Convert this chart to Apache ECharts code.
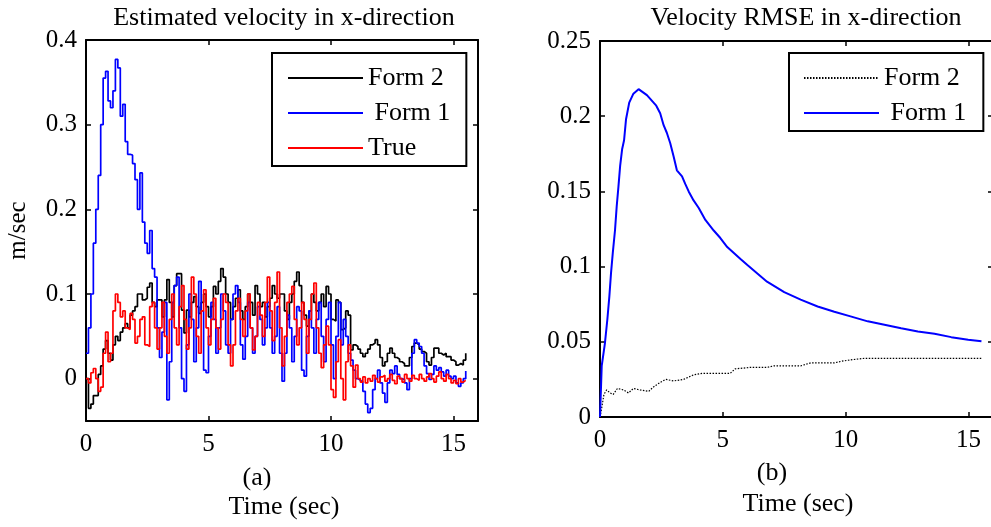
<!DOCTYPE html>
<html>
<head>
<meta charset="utf-8">
<script src="https://cdn.jsdelivr.net/npm/echarts@6/dist/echarts.min.js"></script>
<style>
  html, body { margin: 0; padding: 0; background: #fff; }
  #chart { width: 991px; height: 527px; }
</style>
</head>
<body>
<div id="chart"></div>
<script>
// (a) estimated velocity, sampled every 0.1 s
const velTime = [0, 0.1, 0.2, 0.3, 0.4, 0.5, 0.6, 0.7, 0.8, 0.9,
  1.0, 1.1, 1.2, 1.3, 1.4, 1.5, 1.6, 1.7, 1.8, 1.9,
  2.0, 2.1, 2.2, 2.3, 2.4, 2.5, 2.6, 2.7, 2.8, 2.9,
  3.0, 3.1, 3.2, 3.3, 3.4, 3.5, 3.6, 3.7, 3.8, 3.9,
  4.0, 4.1, 4.2, 4.3, 4.4, 4.5, 4.6, 4.7, 4.8, 4.9,
  5.0, 5.1, 5.2, 5.3, 5.4, 5.5, 5.6, 5.7, 5.8, 5.9,
  6.0, 6.1, 6.2, 6.3, 6.4, 6.5, 6.6, 6.7, 6.8, 6.9,
  7.0, 7.1, 7.2, 7.3, 7.4, 7.5, 7.6, 7.7, 7.8, 7.9,
  8.0, 8.1, 8.2, 8.3, 8.4, 8.5, 8.6, 8.7, 8.8, 8.9,
  9.0, 9.1, 9.2, 9.3, 9.4, 9.5, 9.6, 9.7, 9.8, 9.9,
  10.0, 10.1, 10.2, 10.3, 10.4, 10.5, 10.6, 10.7, 10.8, 10.9,
  11.0, 11.1, 11.2, 11.3, 11.4, 11.5, 11.6, 11.7, 11.8, 11.9,
  12.0, 12.1, 12.2, 12.3, 12.4, 12.5, 12.6, 12.7, 12.8, 12.9,
  13.0, 13.1, 13.2, 13.3, 13.4, 13.5, 13.6, 13.7, 13.8, 13.9,
  14.0, 14.1, 14.2, 14.3, 14.4, 14.5, 14.6, 14.7, 14.8, 14.9,
  15.0, 15.1, 15.2, 15.3, 15.4, 15.5]
const velForm2 = [0.0, -0.035, -0.03, -0.02, -0.02, 0.005, 0.015, 0.035, 0.045, 0.03,
  0.022, 0.04, 0.05, 0.045, 0.055, 0.06, 0.065, 0.06, 0.075, 0.08,
  0.085, 0.1, 0.1, 0.093, 0.095, 0.108, 0.113, 0.09, 0.085, 0.093,
  0.093, 0.073, 0.093, 0.117, 0.09, 0.073, 0.11, 0.124, 0.124, 0.081,
  0.054, 0.081, 0.073, 0.09, 0.097, 0.085, 0.077, 0.09, 0.1, 0.085,
  0.073, 0.085, 0.109, 0.1, 0.115, 0.13, 0.12, 0.1, 0.09, 0.07,
  0.085, 0.095, 0.105, 0.08, 0.07, 0.085, 0.1, 0.09, 0.075, 0.11,
  0.1, 0.085, 0.09, 0.073, 0.085, 0.095, 0.11, 0.1, 0.095, 0.1,
  0.1, 0.08, 0.07, 0.09, 0.1, 0.115, 0.126, 0.11, 0.09, 0.075,
  0.062, 0.08, 0.1, 0.09, 0.08, 0.09, 0.1, 0.085, 0.109, 0.1,
  0.07, 0.068, 0.093, 0.09, 0.058, 0.06, 0.08, 0.075, 0.034, 0.04,
  0.038, 0.035, 0.03, 0.026, 0.03, 0.035, 0.04, 0.042, 0.046, 0.04,
  0.025, 0.015, 0.02, 0.03, 0.036, 0.03, 0.025, 0.023, 0.02, 0.018,
  0.015, 0.015, 0.025, 0.038, 0.042, 0.04, 0.035, 0.032, 0.03, 0.02,
  0.016, 0.025, 0.036, 0.036, 0.03, 0.028, 0.03, 0.026, 0.026, 0.022,
  0.02, 0.016, 0.018, 0.016, 0.022, 0.03]
const velForm1 = [0.03, 0.06, 0.1, 0.16, 0.2, 0.24, 0.3, 0.355, 0.363, 0.328,
  0.32, 0.34, 0.377, 0.367, 0.31, 0.324, 0.28, 0.265, 0.264, 0.254,
  0.235, 0.2, 0.243, 0.185, 0.16, 0.148, 0.175, 0.13, 0.12, 0.06,
  0.025, 0.055, 0.09, -0.025, 0.02, 0.09, 0.11, 0.12, 0.06, 0.0,
  -0.015, 0.04, 0.1, 0.07, 0.02, 0.06, 0.115, 0.08, 0.01, 0.007,
  0.05, 0.09, 0.07, 0.03, 0.06, 0.1, 0.08, 0.04, 0.03, 0.07,
  0.1, 0.11, 0.09, 0.04, 0.023, 0.05, 0.09, 0.06, 0.03, 0.05,
  0.085, 0.07, 0.04, 0.06, 0.09, 0.06, 0.03, 0.05, 0.085, 0.03,
  -0.003, 0.03, 0.075, 0.06, 0.02, 0.05, 0.085, 0.08, 0.01, 0.003,
  0.05, 0.08, 0.06, 0.03, 0.07, 0.09, 0.05, 0.02, 0.07, 0.09,
  0.04, 0.0, 0.05, 0.09, 0.04, 0.07, 0.05, 0.03, 0.022, 0.01,
  0.0, -0.002, -0.004, -0.015, -0.03, -0.04, -0.035, -0.013, 0.0, 0.01,
  -0.005, -0.017, -0.028, -0.005, 0.01, 0.006, 0.015, 0.005, 0.0, -0.001,
  -0.005, -0.013, 0.0, 0.03, 0.046, 0.042, 0.038, 0.03, 0.015, 0.006,
  -0.001, 0.005, 0.015, 0.01, 0.013, 0.008, 0.003, 0.01, 0.003, 0.0,
  0.003, -0.005, -0.009, -0.005, 0.0, 0.009]
const velTrue = [0.0, -0.005, 0.007, 0.012, 0.0, -0.015, -0.01, 0.03, 0.055, 0.02,
  0.03, 0.08, 0.1, 0.09, 0.073, 0.08, 0.06, 0.058, 0.077, 0.07,
  0.042, 0.05, 0.07, 0.073, 0.04, 0.038, 0.085, 0.09, 0.06, 0.035,
  0.06, 0.09, 0.05, 0.03, 0.07, 0.1, 0.06, 0.04, 0.085, 0.11,
  0.07, 0.035, 0.06, 0.12, 0.1, 0.05, 0.03, 0.08, 0.105, 0.06,
  0.04, 0.07, 0.095, 0.06, 0.035, 0.07, 0.1, 0.09, 0.04, 0.015,
  0.04, 0.08, 0.095, 0.07, 0.05, 0.08, 0.1, 0.06, 0.034, 0.05,
  0.09, 0.075, 0.05, 0.09, 0.12, 0.08, 0.045, 0.09, 0.126, 0.06,
  0.015, 0.05, 0.09, 0.1, 0.109, 0.07, 0.04, 0.06, 0.09, 0.07,
  0.03, 0.07, 0.1, 0.113, 0.06, 0.03, 0.013, 0.04, 0.062, 0.04,
  -0.013, -0.022, 0.02, 0.046, 0.0, -0.025, 0.02, 0.04, 0.015, -0.01,
  0.016, 0.0, -0.004, 0.002, -0.005, 0.0, -0.003, 0.004, 0.0, -0.004,
  0.002, 0.004, -0.003, 0.0, 0.005, -0.002, -0.006, 0.003, 0.0, -0.004,
  0.005, 0.0, -0.003, 0.004, 0.0, -0.002, 0.005, 0.0, -0.003, 0.002,
  0.006, 0.0, -0.004, 0.003, 0.008, 0.0, -0.003, 0.005, 0.0, -0.005,
  -0.002, -0.006, 0.0, -0.004, -0.002, -0.002]

// (b) RMSE curves
const rmseTime1 = [0, 0.07, 0.2, 0.3, 0.38, 0.45, 0.52, 0.61, 0.68, 0.75, 0.82, 0.9, 0.98,
  1.06, 1.19, 1.36, 1.57, 1.91, 2.29, 2.45, 2.59, 2.72, 2.86, 3.0, 3.13, 3.34, 3.47, 3.61,
  3.81, 4.02, 4.29, 4.63, 4.9, 5.18, 5.45, 5.72, 6.0, 6.8, 7.5, 8.17, 8.86, 9.54, 10.2,
  10.9, 11.58, 12.26, 12.94, 13.62, 14.3, 14.99, 15.53]
const rmseForm1 = [0, 0.034, 0.049, 0.065, 0.08, 0.096, 0.109, 0.124, 0.14, 0.153, 0.167, 0.178, 0.184,
  0.198, 0.209, 0.215, 0.218, 0.214, 0.207, 0.202, 0.194, 0.189, 0.182, 0.173, 0.164, 0.16, 0.155, 0.15,
  0.144, 0.139, 0.131, 0.124, 0.119, 0.113, 0.109, 0.105, 0.101, 0.09, 0.083, 0.078, 0.0735, 0.07, 0.0669,
  0.0636, 0.0613, 0.059, 0.0569, 0.0554, 0.0531, 0.0514, 0.0503]
const rmseTime2 = [0, 0.07, 0.16, 0.27, 0.41, 0.54, 0.71, 0.95, 1.16, 1.36, 1.63, 1.98, 2.18, 2.45,
  2.68, 3.0, 3.4, 3.81, 4.16, 4.77, 5.3, 5.5, 6.13, 6.81, 7.08, 8.17, 8.58, 9.54, 9.81, 10.2, 10.76, 15.53]
const rmseForm2 = [0, 0.006, 0.015, 0.018, 0.016, 0.015, 0.019, 0.018, 0.016, 0.019, 0.018, 0.017, 0.02, 0.023,
  0.025, 0.024, 0.025, 0.028, 0.029, 0.029, 0.029, 0.032, 0.033, 0.033, 0.034, 0.034, 0.036, 0.036, 0.037, 0.038, 0.039, 0.039]

const xTicks = [0, 5, 10, 15]
const velTicks = [0, 0.1, 0.2, 0.3, 0.4]

const font = 'Liberation Serif'
const pair = (xs, ys) => xs.map((x, i) => [x, ys[i]])
const txt = size => ({ fontFamily: font, fontSize: size, fontWeight: 'normal', color: '#000' })

function frameX(gridIndex, pos, labels) {
  return {
    type: 'value', gridIndex: gridIndex, position: pos, min: 0, max: 16,
    axisLine: { show: true, onZero: false, lineStyle: { color: '#000', width: 2 } },
    axisTick: { show: true, inside: true, length: 5, customValues: xTicks, lineStyle: { color: '#000', width: 1.5 } },
    axisLabel: Object.assign({ show: labels, customValues: xTicks, margin: 11 }, txt(25)),
    splitLine: { show: false }
  }
}

function frameY(gridIndex, pos, labels, range) {
  const ax = {
    type: 'value', gridIndex: gridIndex, position: pos, min: range[0], max: range[1],
    axisLine: { show: true, onZero: false, lineStyle: { color: '#000', width: 2 } },
    axisTick: { show: true, inside: true, length: 5, lineStyle: { color: '#000', width: 1.5 } },
    axisLabel: Object.assign({ show: labels, margin: 9 }, txt(25)),
    splitLine: { show: false }
  }
  if (range[2]) {
    ax.interval = range[2]
  } else {
    ax.axisTick.customValues = velTicks
    ax.axisLabel.customValues = velTicks
  }
  return ax
}

function legendBox(names, left, pad) {
  return {
    data: names, orient: 'vertical', left: left, top: 53,
    padding: pad, itemGap: 9, itemWidth: 75, itemHeight: 22,
    borderColor: '#000', borderWidth: 2, backgroundColor: '#fff',
    selectedMode: false,
    itemStyle: { opacity: 0 },
    formatter: n => n.slice(2) === 'Form 1' ? ' Form 1' : n.slice(2),
    textStyle: txt(26)
  }
}

const chart = echarts.init(document.getElementById('chart'))
const velY = frameY(0, 'left', true, [-0.05, 0.4])
Object.assign(velY, {
  name: 'm/sec', nameLocation: 'middle', nameRotate: 90, nameGap: 55,
  nameTextStyle: txt(25)
})

chart.setOption({
  backgroundColor: '#fff',
  animation: false,
  textStyle: { fontFamily: font, color: '#000' },
  title: [
    { text: 'Estimated velocity in x-direction', left: 279, top: 0, textAlign: 'center', textStyle: txt(26) },
    { text: 'Velocity RMSE in x-direction', left: 801, top: 0, textAlign: 'center', textStyle: txt(26) },
    { text: '(a)', left: 252, top: 460, textAlign: 'center', textStyle: txt(26) },
    { text: 'Time (sec)', left: 279, top: 489, textAlign: 'center', textStyle: txt(26) },
    { text: '(b)', left: 767, top: 455, textAlign: 'center', textStyle: txt(26) },
    { text: 'Time (sec)', left: 793, top: 486, textAlign: 'center', textStyle: txt(26) }
  ],
  legend: [
    legendBox(['a:Form 2', 'a:Form 1', 'a:True'], 272, [12, 16, 5, 15]),
    legendBox(['b:Form 2', 'b:Form 1'], 789, [12, 17, 5, 14])
  ],
  grid: [
    { left: 86, top: 40, width: 392, height: 381, outerBoundsMode: 'none' },
    { left: 600, top: 41, width: 393, height: 376, outerBoundsMode: 'none' }
  ],
  xAxis: [
    frameX(0, 'bottom', true),
    frameX(0, 'top', false),
    frameX(1, 'bottom', true),
    frameX(1, 'top', false)
  ],
  yAxis: [
    velY,
    frameY(0, 'right', false, [-0.05, 0.4]),
    frameY(1, 'left', true, [0, 0.25, 0.05]),
    frameY(1, 'right', false, [0, 0.25, 0.05])
  ],
  series: [
    {
      name: 'a:Form 2', type: 'line', xAxisIndex: 0, yAxisIndex: 0, step: 'end',
      symbol: 'none', data: pair(velTime, velForm2),
      lineStyle: { color: '#000', width: 1.7 }, itemStyle: { color: '#000' }
    },
    {
      name: 'a:Form 1', type: 'line', xAxisIndex: 0, yAxisIndex: 0, step: 'end',
      symbol: 'none', data: pair(velTime, velForm1),
      lineStyle: { color: '#0000ff', width: 1.7 }, itemStyle: { color: '#0000ff' }
    },
    {
      name: 'a:True', type: 'line', xAxisIndex: 0, yAxisIndex: 0, step: 'end',
      symbol: 'none', data: pair(velTime, velTrue),
      lineStyle: { color: '#ff0000', width: 1.7 }, itemStyle: { color: '#ff0000' }
    },
    {
      name: 'b:Form 2', type: 'line', xAxisIndex: 2, yAxisIndex: 2,
      symbol: 'none', data: pair(rmseTime2, rmseForm2),
      lineStyle: { color: '#000', width: 1.2, type: [1.5, 1.5] }, itemStyle: { color: '#000' }
    },
    {
      name: 'b:Form 1', type: 'line', xAxisIndex: 2, yAxisIndex: 2,
      symbol: 'none', data: pair(rmseTime1, rmseForm1),
      lineStyle: { color: '#0000ff', width: 2 }, itemStyle: { color: '#0000ff' }
    }
  ]
})
</script>
</body>
</html>
